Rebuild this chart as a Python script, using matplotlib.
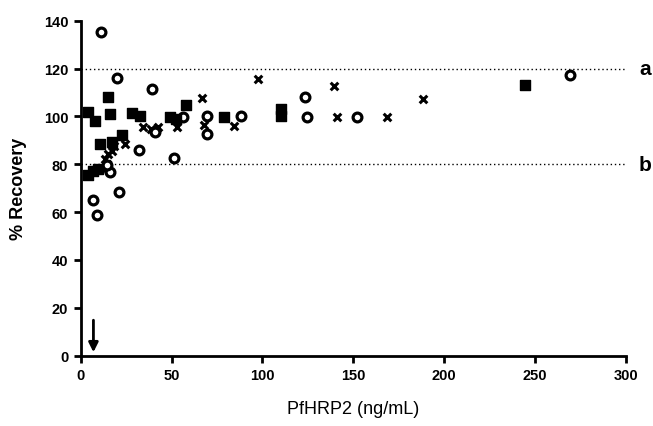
import matplotlib
matplotlib.use("Agg")
import matplotlib.pyplot as plt

plt.rcParams['font.family'] = ['Liberation Sans', 'DejaVu Sans']

# ---- data ----
sq_x = [4.0, 7.8, 14.8, 16.3, 10.4, 17.4, 22.6, 28.0, 32.8, 49.2, 52.5, 58.2, 78.8, 110.5, 110.5, 244.3, 4.2, 6.9, 9.7]
sq_y = [102, 98.2, 108.2, 101, 88.3, 89.2, 92.4, 101.5, 100.1, 99.9, 98.8, 104.6, 99.9, 103.3, 100.0, 113.2, 75.5, 77, 78.2]

ci_x = [11.2, 20.2, 39.1, 32.3, 51.2, 56.5, 41.1, 69.4, 69.4, 88.4, 16.1, 14.3, 20.9, 6.6, 8.8, 123.5, 124.4, 151.9, 269.3]
ci_y = [135.1, 115.9, 111.4, 85.8, 82.8, 99.8, 93.4, 100.3, 92.5, 100.1, 76.8, 79.5, 68.5, 65.0, 58.8, 108, 99.9, 99.9, 117.3]

xx_x = [13.4, 14.3, 15.2, 17.0, 18.5, 24.4, 34.3, 38.5, 42.5, 52.8, 66.6, 67.7, 84.2, 97.5, 139.6, 140.9, 168.8, 188.3, 11.5]
xx_y = [82.2, 80.1, 84.3, 85.5, 87.8, 88.5, 95.4, 94.7, 95.4, 95.7, 107.5, 96.5, 96.0, 115.8, 112.8, 99.9, 99.9, 107.3, 78.5]

ref_lines = [120, 80]
ref_labels = ['a', 'b']
arrow_x = 7
x_ticks = [0, 50, 100, 150, 200, 250, 300]
y_ticks = [0, 20, 40, 60, 80, 100, 120, 140]

fig = plt.figure(figsize=(6.53, 4.27), dpi=100)
ax = fig.add_axes([0.1236, 0.1646, 0.8346, 0.7846])

for y, lab in zip(ref_lines, ref_labels):
    ax.plot([0, 300], [y, y], color='black', linestyle=(0, (1, 2)), linewidth=1.0, clip_on=False)
    ax.text(310.5, y, lab, fontsize=15, fontweight='bold', ha='center', va='center', clip_on=False)

ax.scatter(xx_x, xx_y, marker='x', s=30, color='black', linewidths=2.2, zorder=3, clip_on=False)
ax.scatter(ci_x, ci_y, marker='o', s=40, facecolors='white', edgecolors='black', linewidths=2.3, zorder=4, clip_on=False)
ax.scatter(sq_x, sq_y, marker='s', s=52, color='black', zorder=5, clip_on=False)

ax.annotate('', xy=(arrow_x, 0.3), xytext=(arrow_x, 16),
            arrowprops=dict(arrowstyle='-|>', color='black', lw=2, mutation_scale=14))

ax.set_xlim(0, 300)
ax.set_ylim(0, 140)
ax.set_xticks(x_ticks)
ax.set_yticks(y_ticks)
for s in ['top', 'right']:
    ax.spines[s].set_visible(False)
for s in ['left', 'bottom']:
    ax.spines[s].set_linewidth(2)
ax.tick_params(width=2, length=5, labelsize=10.5, pad=4)
for lab in ax.get_xticklabels() + ax.get_yticklabels():
    lab.set_fontweight('bold')

ax.set_xlabel('PfHRP2 (ng/mL)', fontsize=13, labelpad=13)
ax.set_ylabel('% Recovery', fontsize=13, fontweight='bold', labelpad=12)

fig.savefig('out.png', dpi=100)
